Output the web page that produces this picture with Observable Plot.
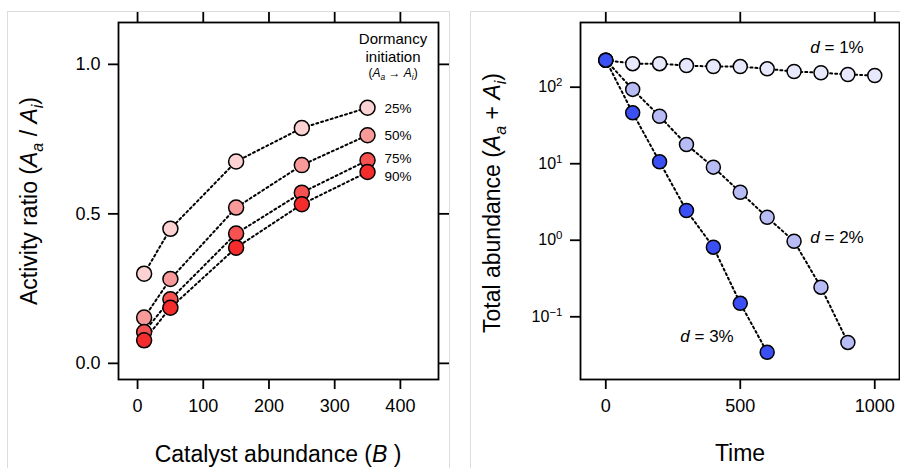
<!DOCTYPE html>
<html><head><meta charset="utf-8">
<script src="https://cdn.jsdelivr.net/npm/d3@7"></script>
<script src="https://cdn.jsdelivr.net/npm/@observablehq/plot@0.6"></script>
<style>
body{margin:0;background:#fff;}
#wrap{display:flex;width:900px;height:468px;overflow:hidden;}
#wrap > div{width:450px;height:468px;flex:none;}
</style></head><body><div id="wrap"><div id="left"></div><div id="right"></div></div>
<script>
// ---- Left panel data ----
const catalyst = [10, 50, 150, 250, 350];
const initiation = ["25%", "50%", "75%", "90%"];
const ratio25 = [0.300, 0.450, 0.675, 0.787, 0.855];
const ratio50 = [0.153, 0.282, 0.521, 0.663, 0.763];
const ratio75 = [0.105, 0.214, 0.434, 0.571, 0.679];
const ratio90 = [0.077, 0.186, 0.387, 0.532, 0.640];
const redColors = ["#fcd2d2", "#f89a9a", "#f65252", "#f42c2c"];
const catalystTicks = [0, 100, 200, 300, 400];
const ratioTicks = [0, 0.5, 1.0];

// ---- Right panel data ----
const decay = ["d = 1%", "d = 2%", "d = 3%"];
const time1 = [0, 100, 200, 300, 400, 500, 600, 700, 800, 900, 1000];
const abund1 = [200, 180, 180, 170, 165, 165, 154, 142, 137, 130, 126];
const time2 = [0, 100, 200, 300, 400, 500, 600, 700, 800, 900];
const abund2 = [200, 83, 37, 15.8, 8.0, 3.76, 1.77, 0.86, 0.216, 0.041];
const time3 = [0, 100, 200, 300, 400, 500, 600];
const abund3 = [200, 41, 9.4, 2.17, 0.72, 0.133, 0.0305];
const blueColors = ["#e8e8fc", "#b8bcf5", "#3a4ff4"];
const timeTicks = [0, 500, 1000];
const abundTicks = [0.1, 1, 10, 100];

const FONT = '"Liberation Sans", Arial, Helvetica, sans-serif';

const ratios = [ratio25, ratio50, ratio75, ratio90];
const leftData = initiation.flatMap((s, i) => catalyst.map((b, j) => ({series: s, B: b, ratio: ratios[i][j]})));
const leftLast = leftData.filter(d => d.B === catalyst[catalyst.length - 1]);

const labelDy = {"25%": 1, "50%": 0, "75%": -2, "90%": 5};

const left = Plot.plot({
  width: 450, height: 468,
  marginLeft: 118, marginRight: 12, marginTop: 22, marginBottom: 89,
  style: {fontFamily: FONT, fontSize: "18px", color: "#000", background: "#fff", overflow: "visible"},
  x: {domain: [-29, 458]},
  y: {domain: [-0.054, 1.14]},
  color: {domain: initiation, range: redColors},
  marks: [
    Plot.axisX({anchor: "bottom", ticks: catalystTicks, tickSize: 10, tickPadding: 10, tickFormat: d => String(d), label: null, fontSize: 18, strokeWidth: 1.8}),
    Plot.axisX({anchor: "top", ticks: catalystTicks, tickSize: 11, tickFormat: () => "", label: null, strokeWidth: 1.8}),
    Plot.axisY({anchor: "left", ticks: ratioTicks, tickSize: 10, tickPadding: 8, tickFormat: d3.format(".1f"), label: null, fontSize: 18, strokeWidth: 1.8}),
    Plot.axisY({anchor: "right", ticks: ratioTicks, tickSize: 10, tickFormat: () => "", label: null, strokeWidth: 1.8}),
    Plot.frame({stroke: "#000", strokeWidth: 1.8}),
    Plot.line(leftData, {x: "B", y: "ratio", z: "series", stroke: "#000", strokeWidth: 2, strokeDasharray: "2,3"}),
    Plot.dot(leftData, {x: "B", y: "ratio", fill: "series", r: 7.5, stroke: "#000", strokeWidth: 1.5}),
    ...initiation.map(s => Plot.text(leftLast.filter(d => d.series === s), {x: "B", y: "ratio", text: "series", dx: 17, dy: labelDy[s], textAnchor: "start", fontSize: 13.5}))
  ]
});
document.getElementById("left").append(left);

const abunds = [abund1, abund2, abund3];
const times = [time1, time2, time3];
const rightData = decay.flatMap((s, i) => times[i].map((t, j) => ({series: s, t, a: abunds[i][j]})));

const right = Plot.plot({
  width: 450, height: 468,
  marginLeft: 130, marginRight: 1, marginTop: 22, marginBottom: 89,
  style: {fontFamily: FONT, fontSize: "18px", color: "#000", background: "#fff", overflow: "visible"},
  x: {domain: [-94, 1092]},
  y: {type: "log", domain: [0.01343, 621]},
  color: {domain: decay, range: blueColors},
  marks: [
    Plot.axisX({anchor: "bottom", ticks: timeTicks, tickSize: 10, tickPadding: 10, tickFormat: d => String(d), label: null, fontSize: 18, strokeWidth: 1.8}),
    Plot.axisX({anchor: "top", ticks: timeTicks, tickSize: 11, tickFormat: () => "", label: null, strokeWidth: 1.8}),
    Plot.axisY({anchor: "left", ticks: abundTicks, tickSize: 10, tickPadding: 8, tickFormat: d => "10^" + Math.round(Math.log10(d)), label: null, fontSize: 16, dy: 4, strokeWidth: 1.8}),
    Plot.frame({stroke: "#000", strokeWidth: 1.8}),
    Plot.line(rightData, {x: "t", y: "a", z: "series", stroke: "#000", strokeWidth: 2, strokeDasharray: "2,3"}),
    Plot.dot(rightData, {x: "t", y: "a", fill: "series", r: 7, stroke: "#000", strokeWidth: 1.5})
  ]
});
document.getElementById("right").append(right);

// superscript exponents on log axis labels
d3.select(right).selectAll("text").each(function() {
  const m = /^10\^(-?\d+)$/.exec(this.textContent);
  if (m) {
    const sel = d3.select(this);
    sel.text("");
    sel.append("tspan").text("10");
    sel.append("tspan").attr("dy", "-0.55em").attr("font-size", "11.5px").text(m[1].replace("-", "\u2212"));
  }
});

function richText(svg, x, y, size, parts, rotate, anchor = "middle") {
  const t = svg.append("text").attr("text-anchor", anchor).attr("font-size", size + "px").attr("fill", "#000")
    .attr("font-family", FONT)
    .attr("transform", `translate(${x},${y})` + (rotate ? " rotate(-90)" : ""));
  let shifted = 0;
  for (const p of parts) {
    const s = t.append("tspan").text(p.t);
    if (p.it) s.attr("font-style", "italic");
    const want = p.sub ? size * 0.28 : 0;
    if (want !== shifted) { s.attr("dy", want - shifted); shifted = want; }
    if (p.sub) s.attr("font-size", (size * 0.7) + "px");
  }
  return t;
}

const L = d3.select(left), R = d3.select(right);
// faint page borders
L.insert("rect", ":first-child").attr("x", 7.5).attr("y", 11.5).attr("width", 442).attr("height", 480).attr("fill", "none").attr("stroke", "#dcdcdc");
R.insert("rect", ":first-child").attr("x", 20.5).attr("y", 11.5).attr("width", 460).attr("height", 480).attr("fill", "none").attr("stroke", "#dcdcdc");

// left titles
richText(L, 37, 201, 23, [{t: "Activity ratio ("}, {t: "A", it: true}, {t: "a", sub: true, it: true}, {t: " / "}, {t: "A", it: true}, {t: "i", sub: true, it: true}, {t: ")"}], true);
richText(L, 278, 462, 23, [{t: "Catalyst abundance ("}, {t: "B", it: true}, {t: " )"}]);
richText(L, 393, 44, 15, [{t: "Dormancy"}]);
richText(L, 393, 62, 15, [{t: "initiation"}]);
richText(L, 393, 77, 12, [{t: "("}, {t: "A", it: true}, {t: "a", sub: true, it: true}, {t: " \u2192 "}, {t: "A", it: true}, {t: "i", sub: true, it: true}, {t: ")"}]);

// right titles
richText(R, 50, 203, 23, [{t: "Total abundance ("}, {t: "A", it: true}, {t: "a", sub: true, it: true}, {t: " + "}, {t: "A", it: true}, {t: "i", sub: true, it: true}, {t: ")"}], true);
richText(R, 290, 461, 23, [{t: "Time"}]);
richText(R, 387, 53, 17, [{t: "d", it: true}, {t: " = 1%"}]);
richText(R, 387, 243, 17, [{t: "d", it: true}, {t: " = 2%"}]);
richText(R, 257, 342, 17, [{t: "d", it: true}, {t: " = 3%"}]);
</script></body></html>
